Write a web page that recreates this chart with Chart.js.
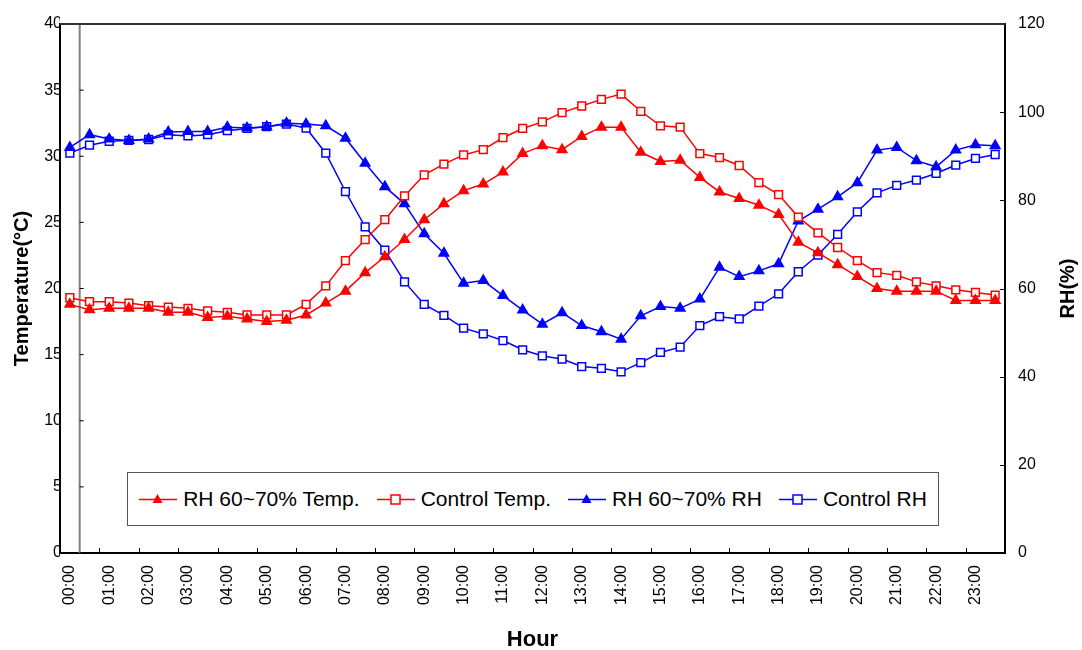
<!DOCTYPE html>
<html>
<head>
<meta charset="utf-8">
<script src="https://cdn.jsdelivr.net/npm/chart.js@4.4.1/dist/chart.umd.min.js"></script>
<style>
  body { margin: 0; background: #fff; }
  #wrap { position: relative; width: 1082px; height: 650px; }
  #legend {
    position: absolute; left: 127px; top: 472px; width: 812px; height: 54px;
    box-sizing: border-box; border: 1px solid #555; background: #fff;
    display: flex; align-items: center; justify-content: center; gap: 17px;
    font: 21px "Liberation Sans", Arial, sans-serif; color: #000;
  }
  .item { display: flex; align-items: center; white-space: nowrap; }
  .item svg { margin-right: 6px; }
</style>
</head>
<body>
<div id="wrap">
  <canvas id="myChart" width="1082" height="650"></canvas>
  <div id="legend"></div>
</div>
<script>
let hours = ["00:00","00:30","01:00","01:30","02:00","02:30","03:00","03:30","04:00","04:30","05:00","05:30",
  "06:00","06:30","07:00","07:30","08:00","08:30","09:00","09:30","10:00","10:30","11:00","11:30",
  "12:00","12:30","13:00","13:30","14:00","14:30","15:00","15:30","16:00","16:30","17:00","17:30",
  "18:00","18:30","19:00","19:30","20:00","20:30","21:00","21:30","22:00","22:30","23:00","23:30"]

let rhTemp = [18.8, 18.4, 18.5, 18.5, 18.5, 18.2, 18.2, 17.8, 17.9, 17.7, 17.5, 17.6,
  18.0, 18.9, 19.8, 21.2, 22.4, 23.7, 25.2, 26.4, 27.4, 27.9, 28.8, 30.2,
  30.8, 30.5, 31.5, 32.2, 32.2, 30.3, 29.6, 29.7, 28.4, 27.3, 26.8, 26.3,
  25.6, 23.5, 22.7, 21.8, 20.9, 20.0, 19.8, 19.8, 19.8, 19.1, 19.1, 19.1]

let controlTemp = [19.3, 19.0, 19.0, 18.9, 18.7, 18.6, 18.5, 18.3, 18.2, 18.0, 18.0, 18.0,
  18.8, 20.2, 22.1, 23.7, 25.2, 27.0, 28.6, 29.4, 30.1, 30.5, 31.4, 32.1,
  32.6, 33.3, 33.8, 34.3, 34.7, 33.4, 32.3, 32.2, 30.2, 29.9, 29.3, 28.0,
  27.1, 25.4, 24.2, 23.1, 22.1, 21.2, 21.0, 20.5, 20.2, 19.9, 19.7, 19.5]

let rhRH = [92.0, 94.9, 93.9, 93.6, 93.9, 95.5, 95.6, 95.6, 96.6, 96.4, 96.7, 97.5,
  97.3, 96.9, 94.1, 88.4, 83.1, 79.2, 72.4, 68.0, 61.2, 61.8, 58.4, 55.1,
  51.9, 54.5, 51.6, 50.2, 48.5, 53.8, 55.9, 55.5, 57.6, 64.8, 62.7, 64.0,
  65.6, 75.3, 78.0, 80.8, 84.0, 91.4, 92.0, 89.0, 87.6, 91.4, 92.6, 92.4]

let controlRH = [90.7, 92.5, 93.4, 93.6, 93.8, 94.9, 94.6, 94.9, 95.8, 96.3, 96.7, 97.3,
  96.4, 90.7, 82.0, 74.0, 68.7, 61.5, 56.4, 53.9, 51.0, 49.7, 48.2, 46.1,
  44.7, 44.0, 42.3, 41.9, 41.1, 43.2, 45.5, 46.7, 51.6, 53.6, 53.1, 56.0,
  58.8, 63.8, 67.6, 72.3, 77.4, 81.7, 83.4, 84.6, 86.1, 88.0, 89.5, 90.4]

const FONT = '"Liberation Sans", Arial, sans-serif'
const RED = '#ff0000'
const BLUE = '#0000ff'

function series(label, data, color, style, axis) {
  return {
    label: label,
    data: data,
    yAxisID: axis,
    borderColor: color,
    borderWidth: 1.5,
    pointStyle: style,
    pointRadius: 5.5,
    pointBorderWidth: 1.5,
    pointBorderColor: color,
    pointBackgroundColor: style == 'rect' ? '#fff' : color,
    tension: 0
  }
}

// frame, gray divider and the inward tick marks
const framePlugin = {
  id: 'frame',
  beforeDatasetsDraw(chart) {
    const { ctx, chartArea: a, scales: { x, y, y1 } } = chart
    const gx = (x.getPixelForValue(0) + x.getPixelForValue(1)) / 2
    ctx.save()
    ctx.strokeStyle = '#808080'
    ctx.lineWidth = 2
    ctx.beginPath()
    ctx.moveTo(gx, a.top)
    ctx.lineTo(gx, a.bottom)
    ctx.stroke()

    ctx.strokeStyle = '#000'
    ctx.lineWidth = 1
    ctx.beginPath()
    y.ticks.forEach(t => {
      let py = y.getPixelForValue(t.value)
      ctx.moveTo(gx, py)
      ctx.lineTo(gx + 4, py)
    })
    y1.ticks.forEach(t => {
      let py = Math.round(y1.getPixelForValue(t.value)) + 0.5
      ctx.moveTo(a.right - 5, py)
      ctx.lineTo(a.right, py)
    })
    for (let i = 2; i < hours.length; i += 2) {
      let px = Math.round((x.getPixelForValue(i - 1) + x.getPixelForValue(i)) / 2) + 0.5
      ctx.moveTo(px, a.bottom)
      ctx.lineTo(px, a.bottom - 5)
    }
    ctx.stroke()

    ctx.strokeStyle = '#333'
    ctx.lineWidth = 2
    ctx.beginPath()
    ctx.moveTo(a.left, a.top)
    ctx.lineTo(a.right, a.top)
    ctx.stroke()
    ctx.restore()
  },
  afterDraw(chart) {
    const { ctx, chartArea: a } = chart
    ctx.save()
    ctx.translate(a.right + 63, (a.top + a.bottom) / 2)
    ctx.rotate(-Math.PI / 2)
    ctx.font = 'bold 20px ' + FONT
    ctx.fillStyle = '#000'
    ctx.textAlign = 'center'
    ctx.textBaseline = 'middle'
    ctx.fillText('RH(%)', 0, 0)
    ctx.restore()
  }
}

let data = {
  labels: hours,
  datasets: [
    series('RH 60~70% Temp.', rhTemp, RED, 'triangle', 'y'),
    series('Control Temp.', controlTemp, RED, 'rect', 'y'),
    series('RH 60~70% RH', rhRH, BLUE, 'triangle', 'y1'),
    series('Control RH', controlRH, BLUE, 'rect', 'y1')
  ]
}

let config = {
  type: 'line',
  data: data,
  plugins: [framePlugin],
  options: {
    responsive: false,
    animation: false,
    devicePixelRatio: 1,
    layout: { padding: { top: 24, left: 0, right: 0, bottom: 0 } },
    plugins: { legend: { display: false }, tooltip: { enabled: false } },
    scales: {
      x: {
        offset: true,
        grid: { display: false, drawTicks: false, offset: true },
        border: { display: true, color: '#000', width: 2 },
        ticks: {
          autoSkip: false,
          minRotation: 90,
          maxRotation: 90,
          padding: 12,
          color: '#000',
          font: { family: FONT, size: 16 },
          callback: (v, i) => (i % 2 == 0 ? hours[i] : '')
        },
        title: {
          display: true,
          text: 'Hour',
          color: '#000',
          font: { family: FONT, size: 22, weight: 'bold', lineHeight: 1 },
          padding: { top: 0, bottom: -1 }
        },
        afterFit: s => { s.height = 97 }
      },
      y: {
        position: 'left',
        min: 0,
        max: 40,
        ticks: { stepSize: 5, padding: -2, color: '#000', font: { family: FONT, size: 16 } },
        grid: { display: false, drawTicks: false },
        border: { display: true, color: '#000', width: 2 },
        title: {
          display: true,
          text: 'Temperature(°C)',
          color: '#000',
          font: { family: FONT, size: 20, weight: 'bold', lineHeight: 1 },
          padding: { top: 12, bottom: 0 }
        },
        afterFit: s => { s.width = 60 }
      },
      y1: {
        position: 'right',
        min: 0,
        max: 120,
        ticks: { stepSize: 20, padding: 13, color: '#000', font: { family: FONT, size: 16 } },
        grid: { display: false, drawTicks: false },
        border: { display: true, color: '#000', width: 2 },
        afterFit: s => { s.width = 77 }
      }
    }
  }
}

let myChart = new Chart(document.getElementById('myChart'), config)

function markerSvg(ds) {
  let c = ds.borderColor
  let mark = ds.pointStyle == 'rect'
    ? '<rect x="14" y="3" width="9" height="9" fill="#fff" stroke="' + c + '" stroke-width="1.5"/>'
    : '<polygon points="18.5,2 23.5,11 13.5,11" fill="' + c + '"/>'
  return '<svg width="38" height="14"><line x1="0" y1="7.5" x2="38" y2="7.5" stroke="' + c + '" stroke-width="1.5"/>' + mark + '</svg>'
}

let legendBox = document.getElementById('legend')
data.datasets.forEach(ds => {
  let item = document.createElement('div')
  item.className = 'item'
  item.innerHTML = markerSvg(ds) + '<span>' + ds.label + '</span>'
  legendBox.appendChild(item)
})
</script>
</body>
</html>
